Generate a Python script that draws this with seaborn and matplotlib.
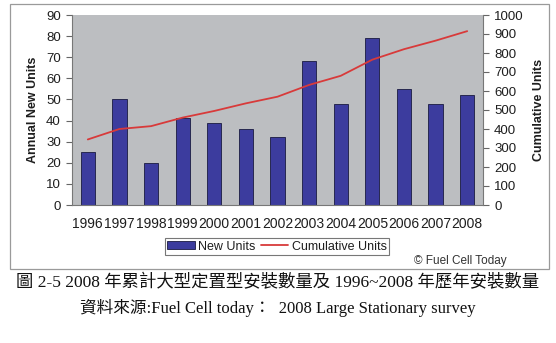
import numpy as np
import pandas as pd
import matplotlib
matplotlib.use("Agg")
import matplotlib.pyplot as plt
import seaborn as sns
from matplotlib.patches import Rectangle, Patch
from matplotlib.lines import Line2D

# ── Dados ─────────────────────────────────────────────────────────────────────
years = ["1996", "1997", "1998", "1999", "2000", "2001", "2002",
         "2003", "2004", "2005", "2006", "2007", "2008"]
new_units = [25, 50, 20, 41, 39, 36, 32, 68, 48, 79, 55, 48, 52]
cumulative = [345, 400, 415, 460, 495, 535, 570, 632, 680, 765, 820, 865, 915]

caption1 = "圖 2-5 2008 年累計大型定置型安裝數量及 1996~2008 年歷年安裝數量"
caption2 = "資料來源:Fuel Cell today：  2008 Large Stationary survey"

df = pd.DataFrame({"year": years, "new": new_units, "cum": cumulative})

sns.set_style("white")
plt.rcParams["font.family"] = ["Liberation Sans", "DejaVu Sans"]

BAR = "#3c3c9e"
LINE = "#d83a3a"
BG = "#bcbec1"
TXT = "#1e1e1e"

fig = plt.figure(figsize=(5.56, 3.43), dpi=100)

# moldura do gráfico
fig.patches.append(Rectangle((10 / 556, 74 / 343), 539 / 556, 265 / 343,
                             transform=fig.transFigure, facecolor="white",
                             edgecolor="#9a9a9a", linewidth=0.9, zorder=-5))

ax = fig.add_axes([72 / 556, 138 / 343, 411 / 556, 190 / 343])
ax.set_facecolor(BG)
sns.barplot(data=df, x="year", y="new", color=BAR, width=0.45,
            edgecolor="#1a1a40", linewidth=0.6, saturation=1, ax=ax, zorder=2)
ax.set_ylim(0, 90)
ax.set_yticks(range(0, 91, 10))
ax.set_xlim(-0.5, len(years) - 0.5)
ax.set_ylabel("Annual New Units", fontsize=9, fontweight="bold", color=TXT, labelpad=5)
ax.set_xlabel("")
ax.tick_params(axis="y", direction="out", length=4, width=0.8, color="#666666",
               labelsize=9.5, labelcolor=TXT, pad=4)
# marcas do eixo x entre categorias
ax.set_xticks(np.arange(-0.5, len(years), 1), minor=True)
ax.tick_params(axis="x", which="major", length=0, labelsize=10, labelcolor=TXT, pad=9)
ax.tick_params(axis="x", which="minor", direction="out", length=4, width=0.8, color="#444444")
for s in ["top", "right"]:
    ax.spines[s].set_visible(False)
for s in ["left", "bottom"]:
    ax.spines[s].set_color("#777777")
    ax.spines[s].set_linewidth(0.8)

ax2 = ax.twinx()
sns.lineplot(x=np.arange(len(years)), y=df["cum"], color=LINE, linewidth=1.3,
             ax=ax2, zorder=3)
ax2.set_ylim(0, 1000)
ax2.set_yticks(range(0, 1001, 100))
ax2.set_xlim(-0.5, len(years) - 0.5)
ax2.set_ylabel("Cumulative Units", fontsize=9, fontweight="bold", color=TXT, labelpad=7)
ax2.tick_params(axis="y", direction="out", length=4, width=0.8, color="#666666",
                labelsize=9.5, labelcolor=TXT, pad=4)
for s in ["top", "left", "bottom"]:
    ax2.spines[s].set_visible(False)
ax2.spines["right"].set_color("#777777")
ax2.spines["right"].set_linewidth(0.8)

handles = [Patch(facecolor=BAR, edgecolor="#1a1a40", linewidth=0.6),
           Line2D([0], [0], color=LINE, linewidth=1.3)]
leg = fig.legend(handles, ["New Units", "Cumulative Units"], loc="center",
                 bbox_to_anchor=(277 / 556, 96.5 / 343), ncol=2, fontsize=9,
                 frameon=True, fancybox=False, borderpad=0.2, handlelength=2.2,
                 handleheight=0.6, columnspacing=0.4, handletextpad=0.3)
leg.get_frame().set_edgecolor("#555555")
leg.get_frame().set_linewidth(0.8)
for t in leg.get_texts():
    t.set_color(TXT)

fig.text(460 / 556, 82 / 343, "© Fuel Cell Today", ha="center", va="center",
         fontsize=8.5, color="#333333")

cap_font = ["Liberation Serif", "Noto Sans CJK TC", "DejaVu Sans"]
fig.text(0.5, 60 / 343, caption1, ha="center", va="center", fontsize=12.5,
         family=cap_font, color="#111111")
fig.text(278 / 556, 35 / 343, caption2, ha="center", va="center", fontsize=12,
         family=cap_font, color="#111111")

fig.savefig("out.png", dpi=100)
